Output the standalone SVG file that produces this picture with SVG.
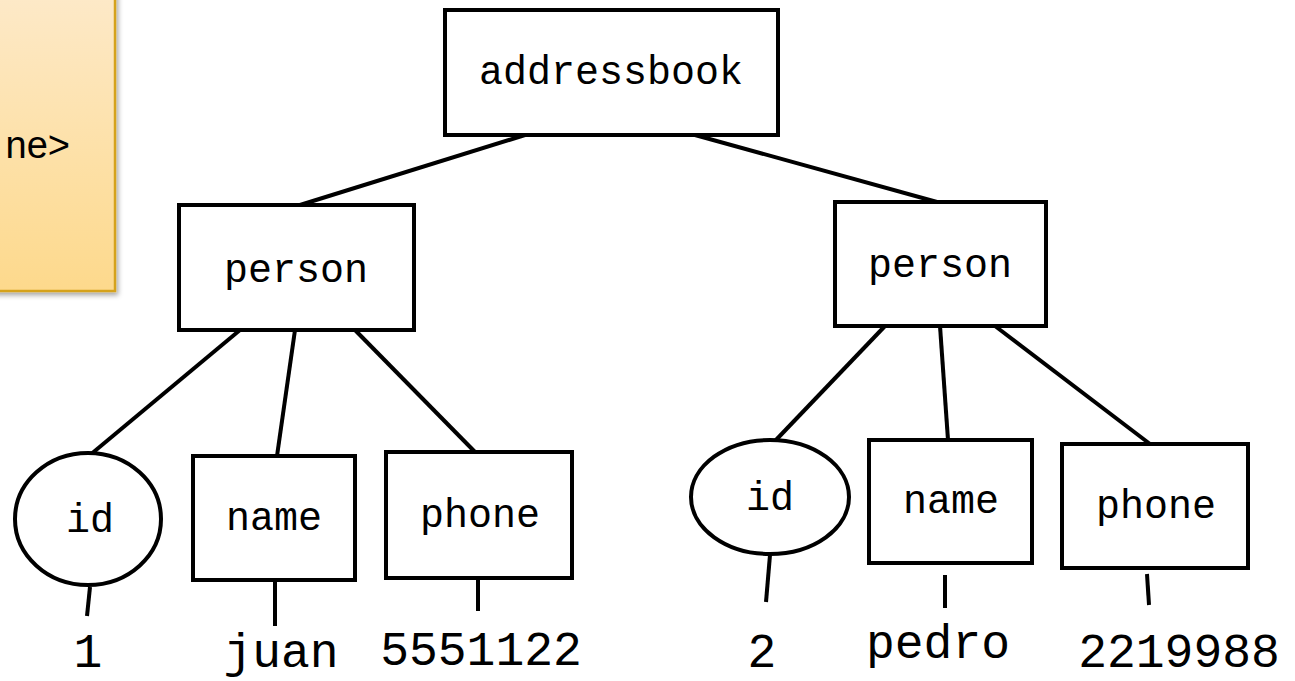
<svg xmlns="http://www.w3.org/2000/svg" width="1295" height="681" viewBox="0 0 1295 681">
<defs>
<linearGradient id="og" x1="0" y1="0" x2="0" y2="1">
<stop offset="0" stop-color="#fdeacb"/>
<stop offset="1" stop-color="#fdd98c"/>
</linearGradient>
<filter id="sh" x="-10%" y="-10%" width="130%" height="130%">
<feDropShadow dx="2" dy="3" stdDeviation="2.5" flood-color="#000" flood-opacity="0.35"/>
</filter>
<style>
.n{fill:#fff;stroke:#000;stroke-width:4}
.t{font-family:"Liberation Mono","Courier New",monospace;font-size:40px;fill:#000;text-anchor:middle}
.v{font-family:"Liberation Mono","Courier New",monospace;font-size:48px;fill:#000;text-anchor:middle}
.c line{stroke:#000;stroke-width:4;stroke-linecap:butt}
</style>
</defs>
<rect x="0" y="0" width="1295" height="681" fill="#fff"/>
<g id="note">
<rect x="-20" y="-20" width="135" height="311" fill="url(#og)" stroke="#d5a21c" stroke-width="2.5" filter="url(#sh)"/>
<text x="70" y="158" text-anchor="end" font-family="Liberation Sans, Arial, sans-serif" font-size="38" fill="#000">ne&gt;</text>
</g>
<g class="c" id="connectors">
<line x1="525" y1="135" x2="300" y2="205"/>
<line x1="695" y1="135" x2="937" y2="202"/>
<line x1="240" y1="330" x2="90" y2="455"/>
<line x1="295" y1="330" x2="277" y2="456"/>
<line x1="355" y1="330" x2="475" y2="452"/>
<line x1="885" y1="326" x2="775" y2="441"/>
<line x1="940" y1="326" x2="948" y2="440"/>
<line x1="995" y1="326" x2="1150" y2="444"/>
<line x1="90" y1="587" x2="87" y2="616"/>
<line x1="275" y1="580" x2="275" y2="626"/>
<line x1="478" y1="578" x2="478" y2="611"/>
<line x1="770" y1="555" x2="766" y2="602"/>
<line x1="945" y1="575" x2="945" y2="608"/>
<line x1="1147" y1="574" x2="1149" y2="605"/>
</g>
<g id="addressbook"><rect class="n" x="445" y="10" width="333" height="125"/><text class="t" x="611" y="84">addressbook</text></g>
<g id="person1"><rect class="n" x="179" y="205" width="235" height="125"/><text class="t" x="296" y="282">person</text></g>
<g id="person2"><rect class="n" x="835" y="202" width="211" height="124"/><text class="t" x="940" y="277">person</text></g>
<g id="id1"><ellipse class="n" cx="88" cy="519" rx="73" ry="66"/><text class="t" x="90" y="532">id</text></g>
<g id="name1"><rect class="n" x="193" y="456" width="162" height="124"/><text class="t" x="274" y="530">name</text></g>
<g id="phone1"><rect class="n" x="386" y="452" width="186" height="126"/><text class="t" x="480" y="527">phone</text></g>
<g id="id2"><ellipse class="n" cx="770" cy="497" rx="79" ry="57"/><text class="t" x="770" y="510">id</text></g>
<g id="name2"><rect class="n" x="869" y="440" width="163" height="123"/><text class="t" x="951" y="513">name</text></g>
<g id="phone2"><rect class="n" x="1062" y="444" width="186" height="124"/><text class="t" x="1156" y="518">phone</text></g>
<g id="values">
<text class="v" x="88" y="667">1</text>
<text class="v" x="281" y="667">juan</text>
<text class="v" x="481" y="665">5551122</text>
<text class="v" x="762" y="667">2</text>
<text class="v" x="938" y="658">pedro</text>
<text class="v" x="1179" y="667">2219988</text>
</g>
</svg>
